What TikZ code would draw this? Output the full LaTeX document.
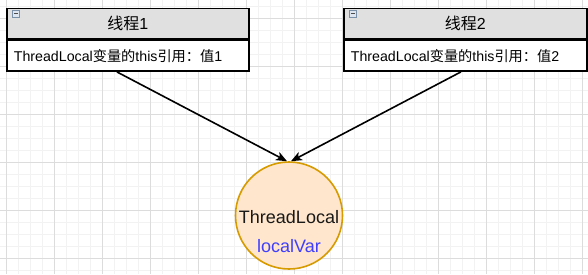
\documentclass[tikz,border=0pt]{standalone}
\usepackage{fontspec}
\setmainfont{Liberation Sans}
\newfontfamily\cjk{Noto Sans CJK SC}
\usetikzlibrary{arrows.meta}
\definecolor{gridminor}{HTML}{F2F2F2}
\definecolor{gridmajor}{HTML}{DCDCDC}
\definecolor{headfill}{HTML}{E0E0E0}
\definecolor{tlfill}{HTML}{FFE6CC}
\definecolor{tldraw}{HTML}{D79B00}
\definecolor{varblue}{HTML}{3F3FFF}
\definecolor{btnfill}{HTML}{DDE6F0}
\definecolor{btndraw}{HTML}{7A8FA8}
\tikzset{
  minorline/.style={gridminor, line width=1.4pt},
  majorline/.style={gridmajor, line width=0.9pt},
  headbox/.style={draw=black, fill=headfill, line width=1.8pt, rectangle,
    anchor=north west, minimum height=30pt, inner sep=0pt,
    font=\fontsize{16}{19}\selectfont},
  bodybox/.style={draw=black, fill=white, line width=1.8pt, rectangle,
    anchor=north west, minimum height=30.8pt, inner xsep=7pt, inner ysep=0pt,
    align=left, font=\fontsize{14.2}{17}\selectfont},
  tlcircle/.style={circle, draw=tldraw, fill=tlfill, line width=1.6pt,
    minimum size=107pt, inner sep=0pt},
  tltext/.style={inner sep=0pt, font=\fontsize{18}{21}\selectfont},
  conn/.style={-{Stealth[length=11pt, width=9pt, inset=3pt]}, line width=1.6pt, black},
  btn/.style={draw=btndraw, fill=btnfill, line width=0.6pt}
}
\begin{document}
\begin{tikzpicture}[x=1pt, y=-1pt]
\useasboundingbox (0,0) rectangle (588,274);
\fill[white] (0,0) rectangle (588,274);
% background grid
\foreach \gx in {6.3,18.3,...,590} \draw[minorline] (\gx,0) -- (\gx,274);
\foreach \gy in {6.3,18.3,...,280} \draw[minorline] (0,\gy) -- (588,\gy);
\foreach \gx in {6.3,54.3,...,590} \draw[majorline] (\gx,0) -- (\gx,274);
\foreach \gy in {18.3,66.3,...,280} \draw[majorline] (0,\gy) -- (588,\gy);

% thread 1
\node[headbox, minimum width=242pt] (h1) at (6,7.5) {{\cjk 线程}1};
\node[bodybox, text width=228pt] (b1) at (h1.south west)
  {ThreadLocal{\cjk 变量的}this{\cjk 引用：值}1};
\draw[btn] (12.5,10.5) rectangle (19.5,17);
\draw[black!70, line width=0.9pt] (13.8,13.8) -- (18.2,13.8);

% thread 2
\node[headbox, minimum width=243pt] (h2) at (343,7.5) {{\cjk 线程}2};
\node[bodybox, text width=229pt] (b2) at (h2.south west)
  {ThreadLocal{\cjk 变量的}this{\cjk 引用：值}2};
\draw[btn] (349.5,10.5) rectangle (356.5,17);
\draw[black!70, line width=0.9pt] (350.8,13.8) -- (355.2,13.8);

% shared ThreadLocal instance
\node[tlcircle] (tl) at (289,215.5) {};
\node[tltext, text=black!90] (tlname) at ([yshift=-1.5]tl.center) {ThreadLocal};
\node[tltext, text=varblue] (tlvar) at ([yshift=-31]tl.center) {localVar};

% references
\draw[conn] ([xshift=-11]b1.south) -- ([xshift=-2]tl.north);
\draw[conn] ([xshift=-4.5]b2.south) -- ([xshift=2]tl.north);
\end{tikzpicture}
\end{document}
